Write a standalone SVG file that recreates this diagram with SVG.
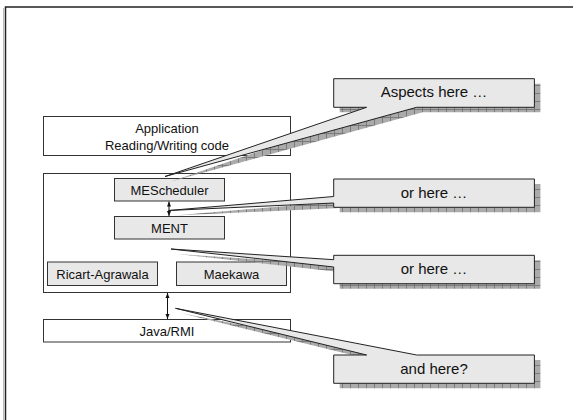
<svg xmlns="http://www.w3.org/2000/svg" width="573" height="420" viewBox="0 0 573 420">
<style>
text{font-family:"Liberation Sans",Arial,sans-serif;fill:#111;text-anchor:middle}
.t13{font-size:13px}
.t15{font-size:15px}
.main{fill:#fff;stroke:#333;stroke-width:1}
.inner{fill:#e8e8e8;stroke:#333;stroke-width:1}
.call{fill:#e8e8e8;stroke:#222;stroke-width:1;stroke-linejoin:miter}
.shadow{fill:url(#hatch);stroke:none}
.conn{stroke:#111;stroke-width:1;fill:none;marker-start:url(#ah);marker-end:url(#ah)}
</style>
<defs>
<pattern id="hatch" width="8" height="8" patternUnits="userSpaceOnUse">
<rect width="8" height="8" fill="#ababab"/>
<path d="M0 0.5H8M0.5 0V8" stroke="#7a7a7a" stroke-width="1"/>
</pattern>
<marker id="ah" viewBox="0 0 10 10" refX="10" refY="5" markerWidth="5" markerHeight="5" orient="auto-start-reverse" markerUnits="userSpaceOnUse">
<path d="M0 1L10 5L0 9Z" fill="#111"/>
</marker>
</defs>
<rect width="573" height="420" fill="#fff"/>
<g id="frame">
<line x1="3.5" y1="8" x2="3.5" y2="420" stroke="#bbb" stroke-width="1"/>
<path d="M5.5 420V7H573" fill="none" stroke="#222" stroke-width="1.5"/>
</g>
<g id="application">
<rect class="main" x="43.5" y="116.5" width="247" height="39"/>
<text class="t13" x="167" y="132.5">Application</text>
<text class="t13" x="167" y="150">Reading/Writing code</text>
</g>
<g id="middleware">
<rect class="main" x="43.5" y="173.5" width="247" height="119"/>
</g>
<g id="mescheduler">
<rect class="inner" x="114.5" y="178.5" width="110" height="22.5"/>
<text class="t13" x="169.5" y="194.5">MEScheduler</text>
</g>
<g id="ment">
<rect class="inner" x="114.5" y="216.5" width="110" height="22.5"/>
<text class="t13" x="169.5" y="233">MENT</text>
</g>
<g id="ricart">
<rect class="inner" x="47.5" y="262" width="110" height="23.5"/>
<text class="t13" x="102.5" y="278.5">Ricart-Agrawala</text>
</g>
<g id="maekawa">
<rect class="inner" x="176.5" y="262" width="110" height="23.5"/>
<text class="t13" x="231.5" y="278.5">Maekawa</text>
</g>
<g id="javarmi">
<rect class="main" x="43.5" y="319.5" width="247" height="22.5"/>
<text class="t13" x="167" y="336">Java/RMI</text>
</g>
<g id="connectors">
<line class="conn" x1="169" y1="201.5" x2="169" y2="216"/>
<line class="conn" x1="167.5" y1="293" x2="167.5" y2="319"/>
</g>
<g id="callout-aspects">
<polygon class="shadow" transform="translate(6,5)" points="333.7,78.7 534.4,78.7 534.4,107.3 416.7,107.3 165,176.5 366.6,107.3 333.7,107.3"/>
<polygon class="call" points="333.7,78.7 534.4,78.7 534.4,107.3 416.7,107.3 165,176.5 366.6,107.3 333.7,107.3"/>
<text class="t15" x="434" y="97">Aspects here …</text>
</g>
<g id="callout-orhere1">
<polygon class="shadow" transform="translate(6,5)" points="333.7,179 534.4,179 534.4,207.3 333.7,207.3 333.7,203 168.5,210.5 333.7,196.5"/>
<polygon class="call" points="333.7,179 534.4,179 534.4,207.3 333.7,207.3 333.7,203 168.5,210.5 333.7,196.5"/>
<text class="t15" x="434" y="198">or here …</text>
</g>
<g id="callout-orhere2">
<polygon class="shadow" transform="translate(6,5)" points="333.7,255.3 534.4,255.3 534.4,283.7 333.7,283.7 333.7,267 171,249 333.7,259.7"/>
<polygon class="call" points="333.7,255.3 534.4,255.3 534.4,283.7 333.7,283.7 333.7,267 171,249 333.7,259.7"/>
<text class="t15" x="434" y="274">or here …</text>
</g>
<g id="callout-andhere">
<polygon class="shadow" transform="translate(6,5)" points="333.7,355 366.6,355 175.5,308.3 416.7,355 534.4,355 534.4,383.3 333.7,383.3"/>
<polygon class="call" points="333.7,355 366.6,355 175.5,308.3 416.7,355 534.4,355 534.4,383.3 333.7,383.3"/>
<text class="t15" x="434" y="373.5">and here?</text>
</g>
</svg>
